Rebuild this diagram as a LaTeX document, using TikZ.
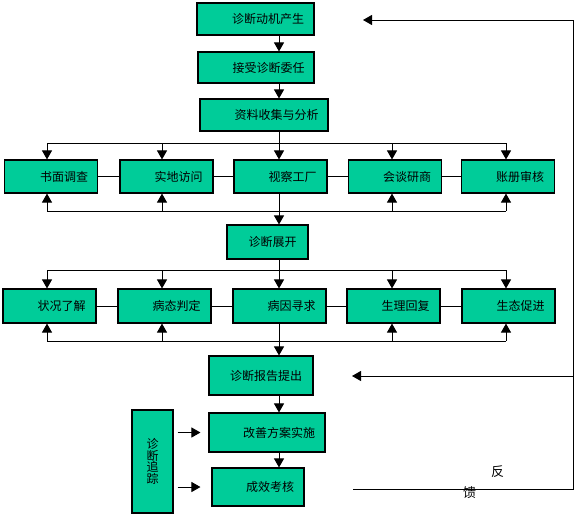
\documentclass[tikz,border=0pt]{standalone}
\usepackage{fontspec}
\newfontfamily\cjk{Noto Sans CJK SC}
\usetikzlibrary{arrows.meta}
\definecolor{boxgreen}{RGB}{0,204,153}
\newcommand{\lpad}[1]{\hspace*{#1pt}}

\tikzset{
  box/.style={draw, fill=boxgreen, line width=1.1pt, inner sep=0pt,
    font=\cjk\fontsize{12}{12}\selectfont},
  rowbox/.style={box, minimum width=93, minimum height=33},
  link/.style={line width=1pt},
  arr/.style={line width=1pt, -{Triangle[width=10pt,length=9pt]}},
}

\begin{document}
\begin{tikzpicture}[x=1pt, y=-1pt]
  \useasboundingbox (0,0) rectangle (580,523);
  % columns and bus lines
  \coordinate (colA) at (47,0);
  \coordinate (colB) at (162,0);
  \coordinate (colC) at (279,0);
  \coordinate (colD) at (392,0);
  \coordinate (colE) at (506,0);
  \coordinate (busA) at (0,143);
  \coordinate (busB) at (0,211);
  \coordinate (busC) at (0,270);
  \coordinate (busD) at (0,341);
  % main chain
  \node[box, minimum width=117, minimum height=32] (motive) at (255.5,19) {\lpad{25}诊断动机产生};
  \node[box, minimum width=116, minimum height=31] (accept) at (256,67.5) {\lpad{25}接受诊断委任};
  \node[box, minimum width=128, minimum height=32] (collect) at (264,115) {\lpad{25}资料收集与分析};
  % first row
  \node[rowbox] (survey) at (51,176.5) {\lpad{26}书面调查};
  \node[rowbox] (visit) at (166.5,176.5) {\lpad{24}实地访问};
  \node[rowbox] (factory) at (280.5,176.5) {\lpad{24}视察工厂};
  \node[rowbox] (talk) at (395,176.5) {\lpad{24}会谈研商};
  \node[rowbox] (ledger) at (508,176.5) {\lpad{24}账册审核};
  \node[box, minimum width=81, minimum height=34] (unfold) at (267.5,242) {\lpad{10}诊断展开};
  % second row
  \node[rowbox, minimum height=34] (status) at (49.5,306) {\lpad{24}状况了解};
  \node[rowbox, minimum height=34] (judge) at (164.5,306) {\lpad{24}病态判定};
  \node[rowbox, minimum height=34] (cause) at (279.5,306) {\lpad{24}病因寻求};
  \node[rowbox, minimum height=34] (recover) at (393.5,306) {\lpad{24}生理回复};
  \node[rowbox, minimum height=34] (promote) at (508.5,306) {\lpad{24}生态促进};
  % lower chain
  \node[box, minimum width=104, minimum height=39] (report) at (261,375.5) {\lpad{10}诊断报告提出};
  \node[box, minimum width=116, minimum height=39] (plan) at (267,432.5) {\lpad{24}改善方案实施};
  \node[box, minimum width=92, minimum height=38] (check) at (258,487) {\lpad{24}成效考核};
  \node[box, minimum width=41, minimum height=103, align=center,
    font=\cjk\fontsize{12}{11.7}\selectfont] (track) at (152.5,461.5) {诊\\断\\追\\踪};

  \draw[arr] (motive.south -| colC) -- (accept.north -| colC);
  \draw[arr] (accept.south -| colC) -- (collect.north -| colC);
  \draw[link] (collect.south -| colC) -- (colC |- busA);
  \draw[link] (colA |- busA) -- (colE |- busA);
  \draw[link] (colA |- busB) -- (colE |- busB);
  \foreach \c/\b in {colA/survey, colB/visit, colC/factory, colD/talk, colE/ledger}
    \draw[arr] (\c |- busA) -- (\b.north -| \c);
  \foreach \c/\b in {colA/survey, colB/visit, colD/talk, colE/ledger}
    \draw[arr] (\c |- busB) -- (\b.south -| \c);
  \draw[arr] (factory.south -| colC) -- (unfold.north -| colC);
  \draw[link] (survey) -- (visit) -- (factory) -- (talk) -- (ledger);

  \draw[link] (unfold.south -| colC) -- (colC |- busC);
  \draw[link] (colA |- busC) -- (colE |- busC);
  \draw[link] (colA |- busD) -- (colE |- busD);
  \foreach \c/\b in {colA/status, colB/judge, colC/cause, colD/recover, colE/promote}
    \draw[arr] (\c |- busC) -- (\b.north -| \c);
  \foreach \c/\b in {colA/status, colB/judge, colD/recover, colE/promote}
    \draw[arr] (\c |- busD) -- (\b.south -| \c);
  \draw[link] (status) -- (judge) -- (cause) -- (recover) -- (promote);
  \draw[arr] (cause.south -| colC) -- (report.north -| colC);
  \draw[arr] (report.south -| colC) -- (plan.north -| colC);
  \draw[arr] (plan.south -| colC) -- (check.north -| colC);

  % tracking
  \draw[arr] ([xshift=4]track.east |- plan.center) -- ([xshift=-8]plan.west);
  \draw[arr] ([xshift=4]track.east |- check.center) -- ([xshift=-11]check.west);

  % feedback loop
  \coordinate (fbLow) at (353,489);
  \coordinate (fbCorner) at (573,489);
  \coordinate (fbTop) at (573,20);
  \coordinate (fbMid) at (573,376);
  \coordinate (fbTipA) at (363,20);
  \coordinate (fbTipB) at (352,376);
  \draw[link] (fbLow) -- (fbCorner) -- (fbTop);
  \draw[arr] (fbTop) -- (fbTipA);
  \draw[arr] (fbMid) -- (fbTipB);
  \node[font=\cjk\fontsize{13}{13}\selectfont] (fan) at (497.5,472) {反};
  \node[font=\cjk\fontsize{13}{13}\selectfont] (kui) at (469.5,492.5) {馈};
\end{tikzpicture}
\end{document}
